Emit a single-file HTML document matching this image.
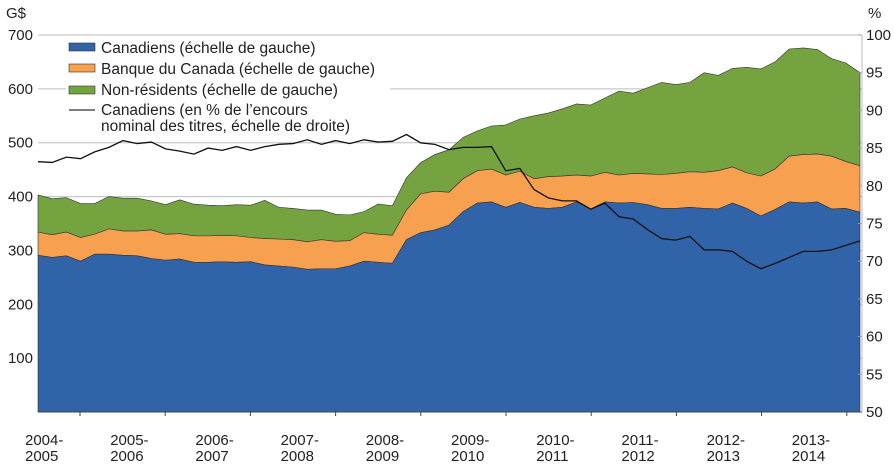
<!DOCTYPE html>
<html><head><meta charset="utf-8"><style>
body{margin:0;background:#fff;font-family:"Liberation Sans",sans-serif}
svg text{font-family:"Liberation Sans",sans-serif;fill:#222}
</style></head><body>
<svg id="c" width="894" height="467" viewBox="0 0 894 467" xmlns="http://www.w3.org/2000/svg">
<g id="grid"></g><g id="areas"></g><g id="axes"></g><g id="legend"></g><g id="lineg"></g>
</svg>
<script>
const canadiens=[291,287,290,280,293,293,291,290,285,282,284,278,278,279,278,279,273,271,269,265,266,266,271,280,278,276,320,333,338,347,372,388,390,380,389,380,378,380,390,377,390,388,389,385,378,378,380,378,377,388,378,364,376,390,388,390,377,378,371];
const banque=[334,329,334,324,330,340,336,336,338,330,331,327,327,328,327,324,322,321,320,316,320,317,318,333,330,328,375,405,410,408,433,448,451,440,447,433,437,438,440,438,445,440,443,442,441,443,446,445,448,455,444,438,451,475,478,479,475,465,457];
const nonres=[403,396,398,387,387,400,397,397,392,385,394,386,384,383,385,384,393,380,378,375,375,367,366,372,386,383,435,463,478,487,510,522,531,533,544,550,555,563,572,570,583,596,592,602,612,608,612,630,625,638,640,637,650,674,676,673,656,648,630];
const pctCanadiens=[83.2,83.1,83.8,83.6,84.5,85.1,86.0,85.6,85.8,84.9,84.6,84.2,85.0,84.7,85.2,84.7,85.2,85.5,85.6,86.1,85.5,86.0,85.6,86.1,85.8,85.9,86.8,85.7,85.5,84.8,85.1,85.1,85.2,82.0,82.3,79.5,78.4,78.0,78.0,76.9,77.7,75.9,75.6,74.2,73.0,72.8,73.3,71.5,71.5,71.3,70.0,69.0,69.7,70.5,71.3,71.3,71.5,72.1,72.7];
const leftTicks=[100,200,300,400,500,600,700];
const rightTicks=[50,55,60,65,70,75,80,85,90,95,100];
const yearLabels=[["2004-","2005"],["2005-","2006"],["2006-","2007"],["2007-","2008"],["2008-","2009"],["2009-","2010"],["2010-","2011"],["2011-","2012"],["2012-","2013"],["2013-","2014"]];

const NS="http://www.w3.org/2000/svg";
const X0=38,X1=860,Y0=412,Y1=35;
const xs=i=>X0+(X1-X0)*i/(canadiens.length-1);
const yl=v=>Y0-(Y0-Y1)*v/700;
const yr=p=>Y0-(Y0-Y1)*(p-50)/50;
function mk(tag,attrs,parent){const e=document.createElementNS(NS,tag);for(const k in attrs)e.setAttribute(k,attrs[k]);parent.appendChild(e);return e;}
const G=id=>document.getElementById(id);

leftTicks.forEach(v=>{
  const l=mk('line',{x1:X0,x2:862,y1:yl(v),y2:yl(v),stroke:'#bdbdbd','stroke-width':1},G('grid'));
  
  
  const t=mk('text',{x:33,y:yl(v)+5,'text-anchor':'end','font-size':15},G('axes'));
  t.textContent=v;
  
  
});
rightTicks.forEach(p=>{
  const t=mk('text',{x:866,y:yr(p)+5,'font-size':15},G('axes'));
  t.textContent=p;
  
  
  mk('line',{x1:858,x2:862,y1:yr(p),y2:yr(p),stroke:'#999'},G('axes'));
});
function area(top,bot,color,name){
  let d='M'+xs(0)+','+yl(top[0]);
  for(let i=1;i<top.length;i++)d+='L'+xs(i)+','+yl(top[i]);
  for(let i=bot.length-1;i>=0;i--)d+='L'+xs(i)+','+yl(bot[i]);
  d+='Z';
  const p=mk('path',{d:d,fill:color,stroke:'#333','stroke-width':0.6},G('areas'));
  
  
}
const zeros=canadiens.map(()=>0);
area(nonres,banque,'#74a340','area-non-residents');
area(banque,canadiens,'#f7a04f','area-banque-du-canada');
area(canadiens,zeros,'#3163a8','area-canadiens');
let d='';
pctCanadiens.forEach((p,i)=>{d+=(i?'L':'M')+xs(i)+','+yr(p);});
const ln=mk('path',{d:d,fill:'none',stroke:'#111','stroke-width':1.3},G('lineg'));


mk('line',{x1:X0,x2:862,y1:Y0,y2:Y0,stroke:'#444'},G('axes'));
mk('line',{x1:862,x2:862,y1:Y1,y2:Y0,stroke:'#bbb'},G('axes'));
yearLabels.forEach((lab,i)=>{
  const tx=80+85.2*i;
  mk('line',{x1:tx,x2:tx,y1:Y0,y2:Y0+4,stroke:'#444'},G('axes'));
  const t=mk('text',{x:tx-55,y:445,'font-size':15},G('axes'));
  
  
  const a=mk('tspan',{x:tx-55,y:445},t);a.textContent=lab[0];
  const b=mk('tspan',{x:tx-55,y:461},t);b.textContent=lab[1];
});
</script>
<svg style="position:absolute;left:0;top:0" width="894" height="467">
<text x="6" y="18" font-size="15">G$</text>
<text x="868" y="18" font-size="15">%</text>
<g>
<rect x="66" y="38" width="324" height="98" fill="#fff"/>
<rect x="69" y="43" width="26" height="8" fill="#3163a8" stroke="#333" stroke-width="0.6"/>
<text x="101" y="53" font-size="15.5">Canadiens (échelle de gauche)</text>
<rect x="69" y="64" width="26" height="8" fill="#f7a04f" stroke="#333" stroke-width="0.6"/>
<text x="101" y="74" font-size="15.5">Banque du Canada (échelle de gauche)</text>
<rect x="69" y="86" width="26" height="8" fill="#74a340" stroke="#333" stroke-width="0.6"/>
<text x="101" y="95" font-size="15.5">Non-résidents (échelle de gauche)</text>
<line x1="69" x2="95" y1="110" y2="110" stroke="#333" stroke-width="1.3"/>
<text x="101" y="115" font-size="15.5">Canadiens (en % de l’encours</text>
<text x="101" y="131" font-size="15.5">nominal des titres, échelle de droite)</text>
</g>
</svg>
</body></html>
